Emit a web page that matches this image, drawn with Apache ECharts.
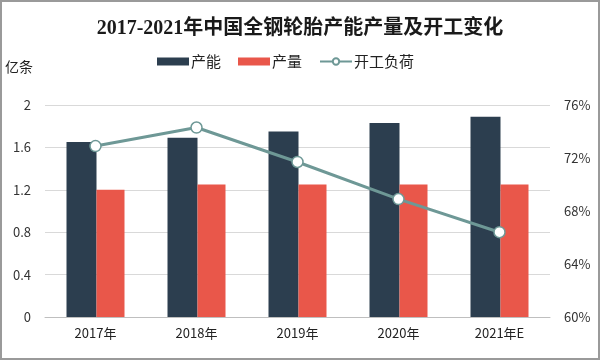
<!DOCTYPE html>
<html><head><meta charset="utf-8">
<script src="https://cdn.jsdelivr.net/npm/echarts@6/dist/echarts.min.js"></script>
<style>html,body{margin:0;padding:0;background:#fff}#c{width:600px;height:360px;box-sizing:border-box;border:2px solid #9a9a9a}</style>
</head><body><div id="c"></div>
<script>
const categories = ['2017年','2018年','2019年','2020年','2021年E'];
const capacity = [1.65, 1.69, 1.75, 1.83, 1.89];
const output = [1.20, 1.25, 1.25, 1.25, 1.25];
const utilization = [72.9, 74.3, 71.7, 68.9, 66.4];
const leftTicks = [0, 0.4, 0.8, 1.2, 1.6, 2];
const rightTicks = [60, 64, 68, 72, 76];

const chart = echarts.init(document.getElementById('c'));
const font = '"Noto Sans CJK SC", sans-serif';
chart.setOption({
  animation: false,
  title: {
    text: '2017-2021年中国全钢轮胎产能产量及开工变化',
    left: 'center', top: 12,
    textStyle: {fontSize: 20, fontWeight: 'bold', color: '#1a1a1a', fontFamily: '"Liberation Serif", "Noto Sans CJK SC", serif'}
  },
  legend: {
    top: 47, left: 150,
    itemWidth: 32, itemHeight: 8, itemGap: 17,
    textStyle: {fontSize: 15, color: '#222', fontFamily: font, padding: [0,0,0,-3]},
    data: [
      {name: '产能', icon: 'rect'},
      {name: '产量', icon: 'rect'},
      {name: '开工负荷'}
    ]
  },
  grid: {left: 42, right: 48, top: 103, bottom: 41},
  xAxis: {
    type: 'category', data: categories,
    axisLine: {lineStyle: {color: '#bfbfbf'}},
    axisTick: {show: false},
    axisLabel: {fontSize: 13, color: '#222', margin: 10, fontFamily: font}
  },
  yAxis: [
    {
      type: 'value', min: leftTicks[0], max: leftTicks[leftTicks.length-1], interval: 0.4,
      name: '亿条', nameLocation: 'end', nameGap: 31,
      nameTextStyle: {fontSize: 14, color: '#222', fontFamily: font, align: 'left', padding: [0,0,0,-40]},
      axisLine: {show: false}, axisTick: {show: false},
      axisLabel: {fontSize: 13, color: '#333', margin: 14, fontFamily: font},
      splitLine: {lineStyle: {color: '#d9d9d9'}}
    },
    {
      type: 'value', min: rightTicks[0], max: rightTicks[rightTicks.length-1], interval: 4,
      axisLine: {show: false}, axisTick: {show: false},
      axisLabel: {fontSize: 13, color: '#333', margin: 14, formatter: '{value}%', fontFamily: font},
      splitLine: {show: false}
    }
  ],
  series: [
    {name: '产能', type: 'bar', data: capacity, barWidth: 30, barGap: '0%', itemStyle: {color: '#2c3e4f'}},
    {name: '产量', type: 'bar', data: output, barWidth: 28, barGap: '0%', itemStyle: {color: '#e9574a'}},
    {name: '开工负荷', type: 'line', yAxisIndex: 1, data: utilization,
      symbol: 'circle', symbolSize: 11,
      lineStyle: {color: '#6e9896', width: 3},
      itemStyle: {color: '#ffffff', borderColor: '#6e9896', borderWidth: 1.5}}
  ]
});
</script></body></html>
